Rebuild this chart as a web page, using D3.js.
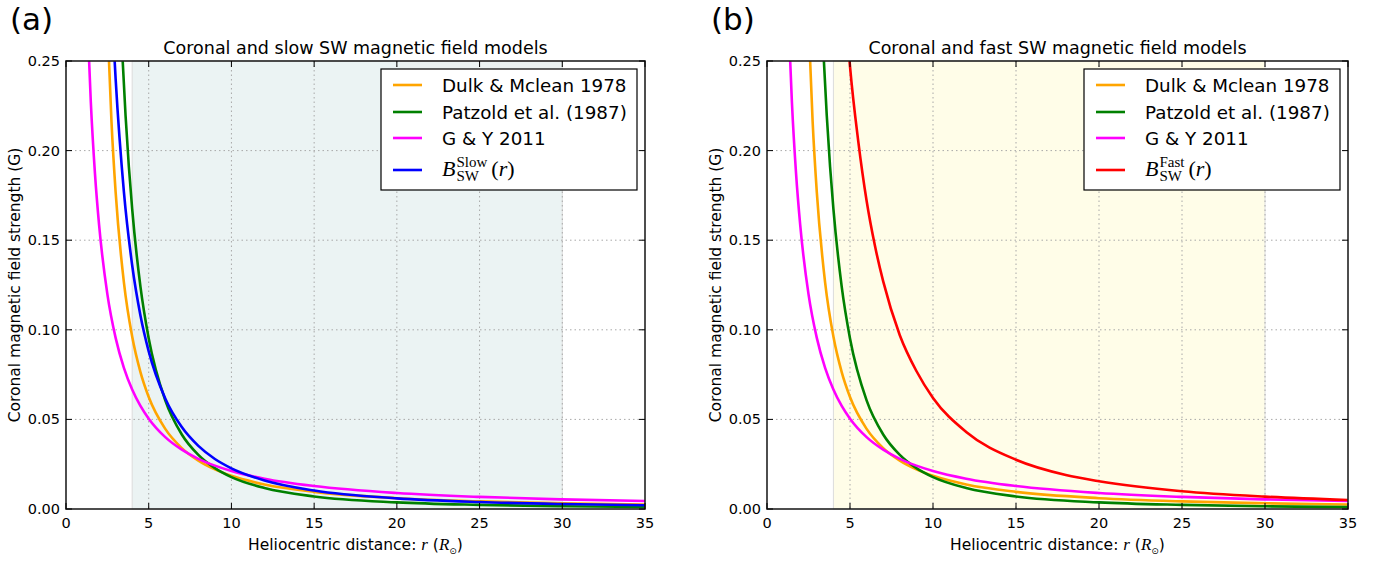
<!DOCTYPE html>
<html>
<head>
<meta charset="utf-8">
<script src="https://cdn.jsdelivr.net/npm/d3@7"></script>
<style>
  body { margin: 0; background: #fff; }
  svg { display: block; }
  text { font-family: "DejaVu Sans", sans-serif; fill: #000; }
</style>
</head>
<body>
<svg id="fig" width="1384" height="561"></svg>
<script>
var rDulk = [2.4, 2.5, 2.75, 3, 3.5, 4, 4.5, 5, 6, 7, 8, 9, 10, 12, 15, 20, 25, 30, 35];
var bDulk = [0.3018, 0.2722, 0.2160, 0.1768, 0.1265, 0.0962, 0.0764, 0.0625, 0.0447, 0.0340, 0.0270, 0.0221, 0.0185, 0.0137, 0.00955, 0.00604, 0.00425, 0.00320, 0.00252];

var rPatz = [3.2, 3.4, 3.6, 3.8, 4, 4.5, 5, 6, 7, 8, 9, 10, 12, 15, 20, 25, 30, 35];
var bPatz = [0.2983, 0.2548, 0.2196, 0.1910, 0.1675, 0.1241, 0.0952, 0.0606, 0.0416, 0.0302, 0.0228, 0.0178, 0.0117, 0.0070, 0.0037, 0.0023, 0.0015, 0.0011];

var rGY = [1.3, 1.5, 1.75, 2, 2.5, 3, 3.5, 4, 4.5, 5, 6, 7, 8, 9, 10, 12, 15, 20, 25, 30, 35];
var bGY = [0.2716, 0.2271, 0.1873, 0.1585, 0.1199, 0.0955, 0.0788, 0.0667, 0.0575, 0.0504, 0.0401, 0.0331, 0.0280, 0.0242, 0.0212, 0.0169, 0.0128, 0.0089, 0.00675, 0.00537, 0.00443];

var rSlow = [2.8, 3, 3.5, 4, 4.5, 5, 6, 7, 8, 9, 10, 12, 15, 20, 25, 30, 35];
var bSlow = [0.274, 0.240, 0.177, 0.136, 0.108, 0.088, 0.0617, 0.0457, 0.0352, 0.0279, 0.0227, 0.0159, 0.0103, 0.00595, 0.0039, 0.00278, 0.00208];

var rFast = [4.9, 5, 5.5, 6, 6.5, 7, 8, 9, 10, 12, 15, 18, 20, 25, 30, 35];
var bFast = [0.258, 0.247, 0.205, 0.172, 0.147, 0.127, 0.097, 0.077, 0.062, 0.043, 0.0275, 0.0190, 0.0155, 0.0099, 0.0069, 0.0050];

var xTicks = [0, 5, 10, 15, 20, 25, 30, 35];
var yTicks = [0.00, 0.05, 0.10, 0.15, 0.20, 0.25];
var bandRange = [4, 30];

function zip(rs, bs) { return rs.map(function(r, i) { return [r, bs[i]]; }); }

var common = [
  {name: "Dulk & Mclean 1978", color: "#ffa500", data: zip(rDulk, bDulk)},
  {name: "Patzold et al. (1987)", color: "#008000", data: zip(rPatz, bPatz)},
  {name: "G & Y 2011", color: "#ff00ff", data: zip(rGY, bGY)}
];

var panels = [
  {letter: "(a)", title: "Coronal and slow SW magnetic field models", left: 66, right: 645,
   band: "#ebf3f3", model: {sup: "Slow", color: "#0000ff", data: zip(rSlow, bSlow)}},
  {letter: "(b)", title: "Coronal and fast SW magnetic field models", left: 767, right: 1348,
   band: "#fffde8", model: {sup: "Fast", color: "#ff0000", data: zip(rFast, bFast)}}
];

var plotTop = 61, plotBottom = 509;
var svg = d3.select("#fig");

panels.forEach(function(p, pi) {
  var x = d3.scaleLinear().domain([0, 35]).range([p.left, p.right]);
  var y = d3.scaleLinear().domain([0, 0.25]).range([plotBottom, plotTop]);
  var g = svg.append("g");

  // shaded span
  g.append("rect")
    .attr("x", x(bandRange[0])).attr("y", plotTop)
    .attr("width", x(bandRange[1]) - x(bandRange[0])).attr("height", plotBottom - plotTop)
    .style("fill", p.band).style("stroke", "#dcdcdc").style("stroke-width", 1);

  // grid
  g.selectAll(".gx").data(xTicks.slice(1, -1)).enter().append("line")
    .attr("x1", d => x(d)).attr("x2", d => x(d)).attr("y1", plotTop).attr("y2", plotBottom)
    .style("stroke", "#a8a8a8").style("stroke-dasharray", "1.5,3");
  g.selectAll(".gy").data(yTicks.slice(1, -1)).enter().append("line")
    .attr("y1", d => y(d)).attr("y2", d => y(d)).attr("x1", p.left).attr("x2", p.right)
    .style("stroke", "#a8a8a8").style("stroke-dasharray", "1.5,3");

  // curves
  var clipId = "clip" + pi;
  svg.append("clipPath").attr("id", clipId).append("rect")
    .attr("x", p.left).attr("y", plotTop).attr("width", p.right - p.left).attr("height", plotBottom - plotTop);

  var line = d3.line().x(d => x(d[0])).y(d => y(d[1])).curve(d3.curveMonotoneX);
  var series = common.concat([{color: p.model.color, data: p.model.data}]);
  g.append("g").attr("clip-path", "url(#" + clipId + ")")
    .selectAll("path").data(series).enter().append("path")
    .attr("d", d => line(d.data))
    .style("fill", "none").style("stroke", d => d.color).style("stroke-width", 2.6);

  // frame
  g.append("rect").attr("x", p.left).attr("y", plotTop)
    .attr("width", p.right - p.left).attr("height", plotBottom - plotTop)
    .style("fill", "none").style("stroke", "#222").style("stroke-width", 1.6);

  // ticks (inward, all sides)
  var tl = 6;
  xTicks.forEach(function(t) {
    g.append("line").attr("x1", x(t)).attr("x2", x(t)).attr("y1", plotBottom).attr("y2", plotBottom - tl).style("stroke", "#000");
    g.append("line").attr("x1", x(t)).attr("x2", x(t)).attr("y1", plotTop).attr("y2", plotTop + tl).style("stroke", "#000");
  });
  yTicks.forEach(function(t) {
    g.append("line").attr("y1", y(t)).attr("y2", y(t)).attr("x1", p.left).attr("x2", p.left + tl).style("stroke", "#000");
    g.append("line").attr("y1", y(t)).attr("y2", y(t)).attr("x1", p.right).attr("x2", p.right - tl).style("stroke", "#000");
  });

  g.selectAll(".xl").data(xTicks).enter().append("text")
    .attr("x", d => x(d)).attr("y", plotBottom + 19)
    .attr("text-anchor", "middle").style("font-size", "14.5px").text(d => d);
  g.selectAll(".yl").data(yTicks).enter().append("text")
    .attr("x", p.left - 6).attr("y", d => y(d) + 5)
    .attr("text-anchor", "end").style("font-size", "14.5px").text(d => d3.format(".2f")(d));

  // titles & labels
  var cx = (p.left + p.right) / 2;
  g.append("text").attr("x", cx).attr("y", 54).attr("text-anchor", "middle")
    .style("font-size", "17.5px").text(p.title);
  g.append("text").attr("x", p.left - 56).attr("y", 30)
    .style("font-size", "31px").text(p.letter);

  g.append("text")
    .attr("transform", "translate(" + (p.left - 46) + "," + ((plotTop + plotBottom) / 2) + ") rotate(-90)")
    .attr("text-anchor", "middle").style("font-size", "15.5px")
    .text("Coronal magnetic field strength (G)");

  var xl = g.append("text").attr("x", cx).attr("y", 550).attr("text-anchor", "middle").style("font-size", "15.5px");
  xl.append("tspan").text("Heliocentric distance: ");
  xl.append("tspan").text("r").style("font-family", "Liberation Serif, serif").style("font-style", "italic").style("font-size", "17px");
  xl.append("tspan").text(" (");
  xl.append("tspan").text("R").style("font-family", "Liberation Serif, serif").style("font-style", "italic").style("font-size", "17px");
  xl.append("tspan").text("\u2299").attr("dy", 4).style("font-size", "9px");
  xl.append("tspan").text(")").attr("dy", -4);

  // legend
  var lw = 256, lx = p.right - 8 - lw, ly = 69, lh = 121;
  var lg = g.append("g");
  lg.append("rect").attr("x", lx).attr("y", ly).attr("width", lw).attr("height", lh)
    .style("fill", "#fff").style("stroke", "#000").style("stroke-width", 1.2);
  var rows = [85, 112, 138, 170];
  series.forEach(function(s, i) {
    lg.append("line").attr("x1", lx + 12).attr("x2", lx + 41).attr("y1", rows[i]).attr("y2", rows[i])
      .style("stroke", s.color).style("stroke-width", 2.6);
  });
  common.forEach(function(s, i) {
    lg.append("text").attr("x", lx + 61).attr("y", rows[i] + 6.5).style("font-size", "18.3px").text(s.name);
  });
  var serif = "Liberation Serif, DejaVu Serif, serif";
  var bx = lx + 61, by = rows[3] + 6;
  var bt = lg.append("text").attr("x", bx).attr("y", by).style("font-family", serif)
    .style("font-style", "italic").style("font-size", "22px").text("B");
  var bw = bt.node().getComputedTextLength();
  var sup = lg.append("text").attr("x", bx + bw + 1).attr("y", by - 9).style("font-family", serif)
    .style("font-size", "15px").text(p.model.sup);
  var sub = lg.append("text").attr("x", bx + bw + 1).attr("y", by + 5).style("font-family", serif)
    .style("font-size", "15px").text("SW");
  var sw = Math.max(sup.node().getComputedTextLength(), sub.node().getComputedTextLength());
  var rt = lg.append("text").attr("x", bx + bw + sw + 5).attr("y", by).style("font-family", serif).style("font-size", "22px");
  rt.append("tspan").text("(");
  rt.append("tspan").text("r").style("font-style", "italic");
  rt.append("tspan").text(")");
});
</script>
</body>
</html>
